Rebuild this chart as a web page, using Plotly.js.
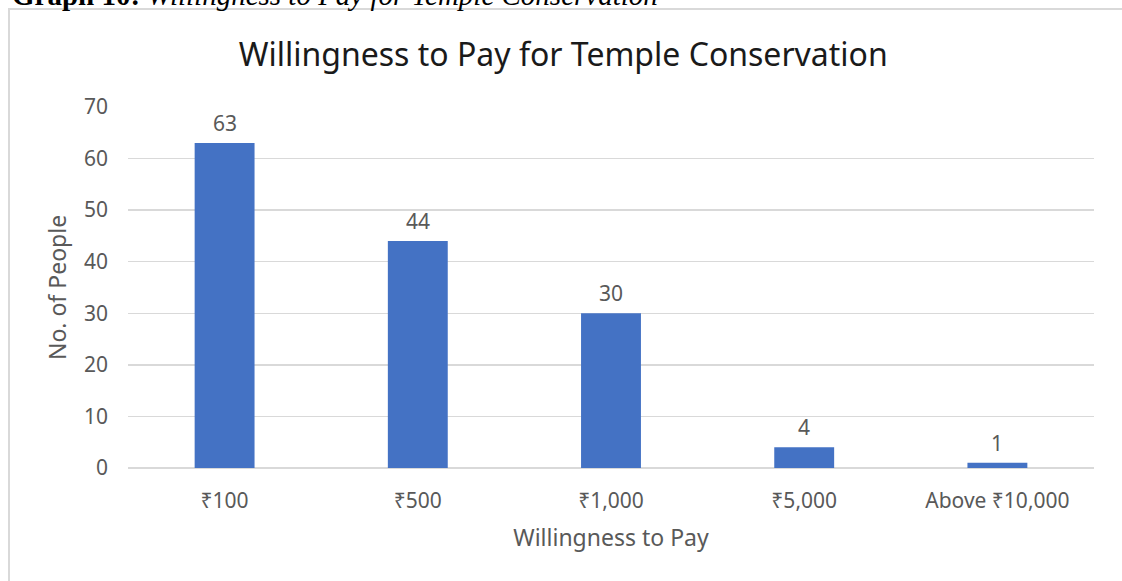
<!DOCTYPE html>
<html>
<head>
<meta charset="utf-8">
<script src="https://cdn.plot.ly/plotly-3.0.1.min.js"></script>
<style>
html,body{margin:0;padding:0;background:#fff;}
#chart{width:1122px;height:581px;}
</style>
</head>
<body>
<div id="chart"></div>
<script>
const categories = ["₹100", "₹500", "₹1,000", "₹5,000", "Above ₹10,000"];
const people = [63, 44, 30, 4, 1];
const yTicks = [0, 10, 20, 30, 40, 50, 60, 70];

const chartTitle = "Willingness to Pay for Temple Conservation";
const xTitle = "Willingness to Pay";
const yTitle = "No. of People";
const caption = "<b>Graph 10:</b> <i>Willingness to Pay for Temple Conservation</i>";

const FONT = "Noto Sans, Open Sans, DejaVu Sans, sans-serif";
const W = 1122, H = 581;
const M = {l: 128, r: 28, t: 107, b: 113};
const pw = W - M.l - M.r, ph = H - M.t - M.b;
const px = x => (x - M.l) / pw;
const py = y => (H - M.b - y) / ph;

const trace = {
  type: "bar",
  x: categories,
  y: people,
  marker: {color: "#4472c4"},
  hoverinfo: "x+y"
};

const labelAnn = categories.map((c, i) => ({
  x: c, y: people[i], xref: "x", yref: "y",
  text: String(people[i]), showarrow: false,
  yanchor: "bottom", yshift: 4,
  font: {family: FONT, size: 21, color: "#595959"}
}));

const layout = {
  width: W, height: H,
  margin: M,
  paper_bgcolor: "#ffffff",
  plot_bgcolor: "#ffffff",
  bargap: 0.69,
  showlegend: false,
  font: {family: FONT, color: "#595959"},
  title: {
    text: chartTitle,
    font: {family: FONT, size: 32, color: "#1a1a1a"},
    x: 0.502, xanchor: "center", xref: "container",
    y: 1 - 55 / H, yanchor: "middle", yref: "container"
  },
  xaxis: {
    type: "category",
    showgrid: false,
    showline: false,
    zeroline: false,
    ticks: "",
    ticklabelstandoff: 18,
    tickfont: {family: FONT, size: 21, color: "#595959"},
    title: {text: xTitle, font: {family: FONT, size: 23, color: "#595959"}, standoff: 16}
  },
  yaxis: {
    range: [0, 70],
    tickvals: yTicks,
    showgrid: true,
    gridcolor: "#d9d9d9",
    gridwidth: 1.5,
    zeroline: true,
    zerolinecolor: "#d9d9d9",
    zerolinewidth: 1.5,
    showline: false,
    ticks: "",
    ticklabelstandoff: 19,
    tickfont: {family: FONT, size: 21, color: "#595959"},
    title: {text: yTitle, font: {family: FONT, size: 23, color: "#595959"}, standoff: 10}
  },
  shapes: [
    {type: "line", xref: "paper", yref: "paper", x0: px(8), x1: px(1122), y0: py(9), y1: py(9),
     line: {color: "#d9d9d9", width: 2}},
    {type: "line", xref: "paper", yref: "paper", x0: px(9), x1: px(9), y0: py(9), y1: py(581),
     line: {color: "#d9d9d9", width: 2}}
  ],
  annotations: labelAnn.concat([{
    xref: "paper", yref: "paper", x: px(10), y: py(13),
    xanchor: "left", yanchor: "bottom", showarrow: false,
    text: caption,
    font: {family: "Liberation Serif, Times New Roman, serif", size: 29, color: "#000000"}
  }])
};

Plotly.newPlot("chart", [trace], layout, {displayModeBar: false, staticPlot: true});
</script>
</body>
</html>
